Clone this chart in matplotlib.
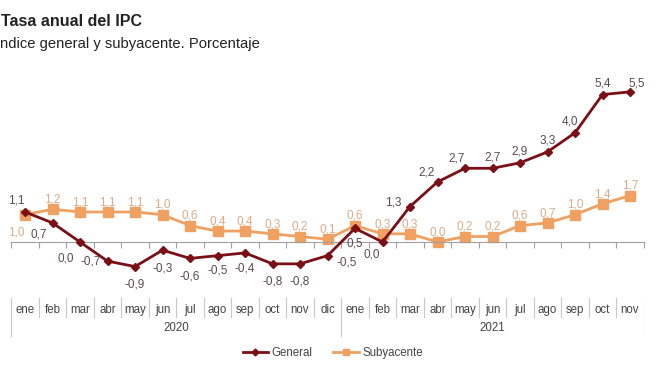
import numpy as np
import matplotlib.pyplot as plt
from matplotlib.lines import Line2D

plt.rcParams['font.family'] = ['Liberation Sans', 'DejaVu Sans']

# data
meses = ["ene", "feb", "mar", "abr", "may", "jun", "jul", "ago", "sep", "oct", "nov", "dic",
         "ene", "feb", "mar", "abr", "may", "jun", "jul", "ago", "sep", "oct", "nov"]
anios = ["2020", "2021"]
general = [1.1, 0.7, 0.0, -0.7, -0.9, -0.3, -0.6, -0.5, -0.4, -0.8, -0.8, -0.5,
           0.5, 0.0, 1.3, 2.2, 2.7, 2.7, 2.9, 3.3, 4.0, 5.4, 5.5]
subyacente = [1.0, 1.2, 1.1, 1.1, 1.1, 1.0, 0.6, 0.4, 0.4, 0.3, 0.2, 0.1,
              0.6, 0.3, 0.3, 0.0, 0.2, 0.2, 0.6, 0.7, 1.0, 1.4, 1.7]

# label offsets in points (dx, dy)
off_gen = [(-6, 8), (-10, -8), (-10, -12), (-12, 0), (0, -13), (0, -13), (0, -13), (0, -11),
           (0, -11), (0, -13), (0, -13), (14, -5),
           (0, -11), (-8, -9), (-12, 3), (-8, 7), (-6, 7), (0, 8), (0, 8), (0, 8),
           (-4, 8), (0, 8), (5, 6)]
off_sub = [(-6, -13)] + [(0, 7)] * 22

c_gen = "#7a1015"
c_sub = "#f0a060"
t_gen = "#5c4a50"
t_sub = "#dcac88"

W, H = 659, 371
fig = plt.figure(figsize=(W / 100, H / 100), dpi=100)

x = np.arange(len(meses))
ymin, ymax = -1.6, 6.2
ppu = 27.3
y0 = 242
bot = y0 + (-ymin) * ppu
top = y0 - ymax * ppu
left, right = 11.25, 643.75
ax = fig.add_axes([left / W, (H - bot) / H, (right - left) / W, (bot - top) / H])
ax.set_xlim(-0.5, len(meses) - 0.5)
ax.set_ylim(ymin, ymax)
for s in ["top", "right", "left"]:
    ax.spines[s].set_visible(False)
ax.spines["bottom"].set_position(("data", 0))
ax.spines["bottom"].set_color("#a0a0a0")
ax.set_xticks(np.arange(-0.5, len(meses), 1))
ax.set_xticklabels([])
ax.tick_params(axis="x", length=4, color="#a0a0a0", direction="out")
ax.set_yticks([])

ax.plot(x, subyacente, color=c_sub, lw=2, marker="s", ms=7, zorder=2)
ax.plot(x, general, color=c_gen, lw=2, marker="D", ms=4.5, zorder=3)

for i in range(len(meses)):
    ax.annotate(f"{general[i]:.1f}".replace(".", ","), (x[i], general[i]),
                xytext=off_gen[i], textcoords="offset points", ha="center", va="center",
                fontsize=8.5, color=t_gen)
    ax.annotate(f"{subyacente[i]:.1f}".replace(".", ","), (x[i], subyacente[i]),
                xytext=off_sub[i], textcoords="offset points", ha="center", va="center",
                fontsize=8.5, color=t_sub)

# category axis
cat = fig.add_axes([left / W, 0, (right - left) / W, 1])
cat.set_xlim(-0.5, len(meses) - 0.5)
cat.set_ylim(H, 0)
cat.axis("off")
for b in np.arange(-0.5, len(meses), 1):
    long = b in (-0.5, 11.5, len(meses) - 0.5)
    cat.plot([b, b], [298, 336 if long else 317], color="#c8c8c8", lw=0.8)
for i, m in enumerate(meses):
    cat.text(i, 310, m, ha="center", va="center", fontsize=8.3, color="#444444")
cat.text(5.5, 328, anios[0], ha="center", va="center", fontsize=8.3, color="#444444")
cat.text(17, 328, anios[1], ha="center", va="center", fontsize=8.3, color="#444444")

fig.text(1 / W, 1 - 22 / H, "Tasa anual del IPC", fontsize=11.5, fontweight="bold",
         ha="left", va="center", color="#222222")
fig.text(0, 1 - 44 / H, "ndice general y subyacente. Porcentaje", fontsize=10.6,
         ha="left", va="center", color="#222222")

handles = [Line2D([], [], color=c_gen, lw=2, marker="D", ms=3.5),
           Line2D([], [], color=c_sub, lw=2, marker="s", ms=5)]
fig.legend(handles, ["General", "Subyacente"], loc="center", bbox_to_anchor=(0.505, 1 - 353 / H),
           ncol=2, frameon=False, fontsize=8.3, handlelength=2.2, handletextpad=0.3,
           columnspacing=1.8, labelcolor="#444444")

fig.savefig("out.png", dpi=100)
